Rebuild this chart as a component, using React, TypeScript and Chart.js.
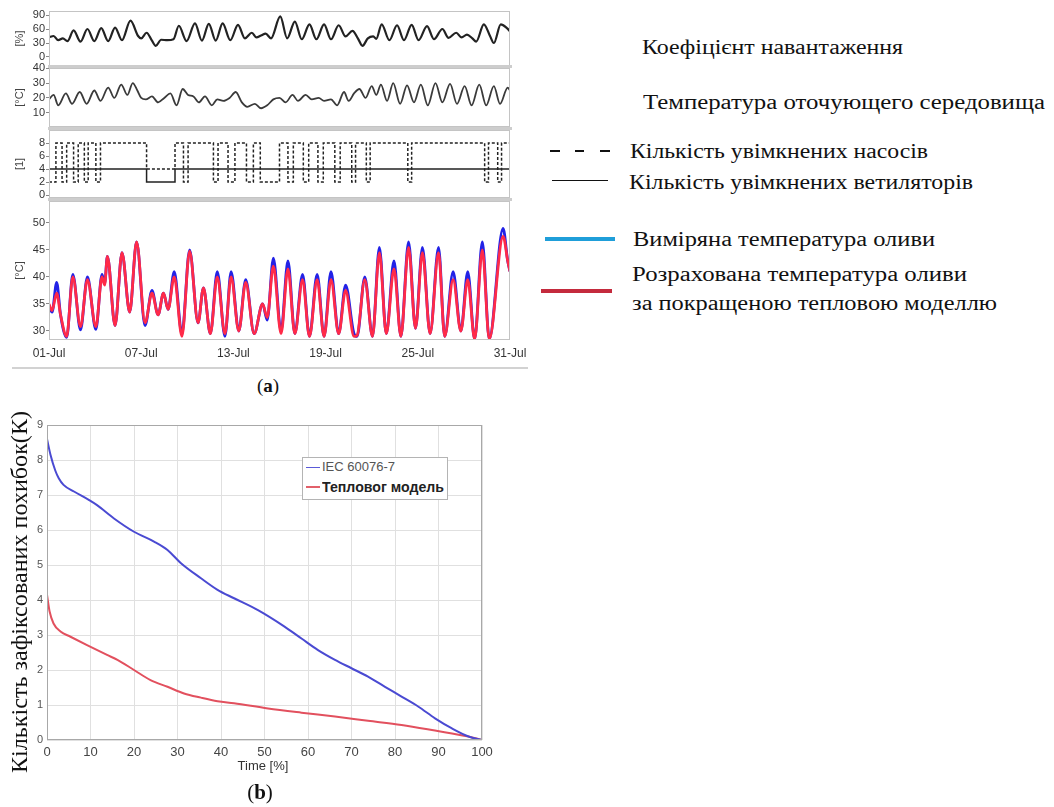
import React, { useEffect, useRef } from 'react';
import { Chart, registerables } from 'chart.js';

Chart.register(...registerables);

const SANS = "'Liberation Sans', Arial, sans-serif";
const SERIF = "'Liberation Serif', 'Times New Roman', serif";

// ---------- (a) panel 1: load factor [%]
const loadDays = [0, 0.3, 0.6, 0.9, 1.2, 1.6, 2.05, 2.5, 2.95, 3.4, 3.85, 4.3, 4.75, 5.3, 5.8, 6.0, 6.35, 6.7, 6.95, 7.3, 7.7, 8.1, 8.45, 8.95, 9.5, 9.95, 10.4, 10.85, 11.3, 11.8, 12.3, 12.75, 13.2, 13.5, 13.8, 14.1, 14.45, 15.05, 15.5, 16.0, 16.45, 16.95, 17.4, 17.9, 18.35, 18.85, 19.3, 19.75, 20.1, 20.4, 20.75, 21.1, 21.3, 21.65, 22.15, 22.65, 23.1, 23.6, 24.05, 24.6, 25.05, 25.6, 26.0, 26.5, 26.85, 27.2, 27.55, 27.8, 28.3, 28.7, 28.95, 29.4, 29.8, 30];
const loadValues = [42, 45, 36, 40, 34, 57, 33, 60, 34, 62, 34, 63, 36, 78, 45, 40, 52, 35, 24, 37, 36, 38, 67, 34, 72, 35, 71, 35, 72, 36, 69, 40, 52, 42, 46, 50, 40, 87, 40, 76, 38, 70, 38, 70, 38, 68, 44, 56, 40, 24, 40, 44, 39, 70, 36, 68, 36, 69, 36, 66, 38, 60, 41, 52, 42, 48, 40, 33, 70, 45, 30, 70, 62, 55];

// ---------- (a) panel 2: ambient temperature [°C]
const ambientDays = [0, 0.3, 0.6, 1.1, 1.5, 2.0, 2.45, 2.95, 3.35, 3.85, 4.25, 4.7, 5.1, 5.45, 5.75, 6.0, 6.3, 6.7, 7.1, 7.5, 7.9, 8.3, 8.7, 9.05, 9.4, 9.75, 10.15, 10.6, 10.95, 11.35, 11.75, 12.15, 12.55, 12.9, 13.4, 13.8, 14.2, 14.6, 15.0, 15.4, 15.85, 16.2, 16.7, 17.1, 17.55, 17.9, 18.35, 18.75, 19.2, 19.5, 19.85, 20.2, 20.6, 21.0, 21.3, 21.6, 22.0, 22.4, 22.85, 23.3, 23.75, 24.2, 24.65, 25.15, 25.6, 26.1, 26.55, 27.05, 27.5, 28.0, 28.45, 28.95, 29.35, 29.85, 30];
const ambientValues = [19, 22, 15, 23, 16, 24, 16, 25, 18, 27, 20, 29, 22, 30, 25, 20, 19, 21, 17, 20, 23, 15, 26, 22, 21, 17, 21, 15, 19, 18, 20, 24, 17, 14, 16, 13, 15, 19, 20, 17, 22, 18, 22, 19, 20, 18, 19, 15, 24, 18, 23, 26, 20, 28, 22, 29, 18, 30, 16, 28.5, 17, 29, 15, 30, 17, 29.5, 16, 28, 15, 29, 15, 28, 16, 27, 25];

// ---------- (a) panel 3: number of pumps / fans switched on
const pumpDays = [0, 0.45, 0.85, 1.15, 1.6, 1.9, 2.3, 2.55, 3.05, 3.35, 6.35, 8.2, 8.75, 9.05, 10.7, 11.0, 11.65, 12.1, 12.85, 13.3, 13.75, 15.0, 15.55, 15.9, 16.55, 16.9, 17.5, 17.85, 18.6, 18.95, 19.7, 19.95, 20.65, 20.9, 23.35, 23.6, 28.35, 28.6, 29.2, 29.45, 30];
const pumpCounts = [2, 8, 2, 8, 2, 8, 2, 8, 2, 8, 4, 8, 2, 8, 2, 8, 2, 8, 2, 8, 2, 8, 2, 8, 2, 8, 2, 8, 2, 8, 2, 8, 2, 8, 2, 8, 2, 8, 2, 8, 8];
const fanDays = [0, 6.35, 8.2, 30];
const fanCounts = [4, 2, 4, 4];

// ---------- (a) panel 4: oil temperature [°C]
const oilDays = [0, 0.2, 0.5, 0.75, 1.15, 1.55, 2.05, 2.5, 3.05, 3.45, 3.62, 3.8, 4.3, 4.75, 5.25, 5.7, 6.25, 6.7, 7.1, 7.45, 7.75, 8.15, 8.65, 9.15, 9.7, 10.05, 10.5, 10.95, 11.45, 11.85, 12.35, 12.8, 13.35, 13.9, 14.2, 14.6, 15.1, 15.55, 16.0, 16.5, 16.95, 17.45, 17.9, 18.35, 18.85, 19.3, 19.85, 20.05, 20.55, 21.05, 21.5, 21.95, 22.45, 22.9, 23.4, 23.85, 24.3, 24.8, 25.35, 25.75, 26.3, 26.8, 27.25, 27.7, 28.2, 28.65, 29.55, 29.85, 30];
const oilCalculated = [35, 33.8, 37, 33, 29, 40, 30.8, 39.5, 30.8, 40, 38.5, 43.8, 31, 44.5, 33.5, 46.5, 31.5, 37, 33, 37, 34, 40, 29, 44.8, 31.5, 38, 29.5, 40, 29.5, 40, 30, 39, 29.5, 35, 32.5, 42, 29.5, 41.5, 29.5, 39.5, 29, 39.5, 29, 39.5, 29.5, 37.5, 29, 29.2, 39.5, 29, 44.5, 29.5, 41.5, 29, 45.5, 30.5, 44.5, 29.5, 44.5, 29, 39.5, 30, 39.5, 28.5, 45, 28.5, 47.5, 43, 41];
const oilMeasured = [34.5, 33.5, 39, 33, 28.8, 40.5, 30.2, 40, 30.3, 40.5, 38.8, 43.8, 31, 44.5, 33.5, 46.5, 31, 37.5, 33, 37, 34, 41, 29.5, 45, 31.5, 38, 29.5, 41, 29, 41, 30, 39.5, 29.5, 35, 32, 43.5, 30, 43, 29.5, 40.5, 29, 40.5, 29, 41, 29.5, 38.5, 29.5, 29, 40, 29, 45.5, 29.5, 43, 29, 46.5, 30.5, 45.5, 29.5, 45.5, 29, 41, 30, 41, 28.5, 46.5, 28.5, 49, 43, 41];

const dateTickDays = [0, 6, 12, 18, 24, 30];
const dateTickLabels = ['01-Jul', '07-Jul', '13-Jul', '19-Jul', '25-Jul', '31-Jul'];
const loadTicks = [0, 30, 60, 90];
const ambientTicks = [10, 20, 30, 40];
const countTicks = [0, 2, 4, 6, 8];
const oilTicks = [30, 35, 40, 45, 50];

// ---------- (b) error counts vs time [%]
const iecPercent = [0, 0.8, 1.9, 2.7, 3.8, 6.2, 9.6, 11.5, 15.4, 20, 24.6, 27.7, 30.8, 35.4, 39.2, 43, 48.5, 54.6, 58.5, 62.3, 66.2, 70, 73.8, 77.7, 81.5, 85.4, 89.2, 93.1, 96.9, 100];
const iecErrors = [8.6, 8.15, 7.7, 7.48, 7.29, 7.1, 6.86, 6.71, 6.33, 5.95, 5.67, 5.43, 5.05, 4.62, 4.29, 4.05, 3.71, 3.24, 2.9, 2.57, 2.29, 2.05, 1.81, 1.52, 1.24, 0.95, 0.62, 0.33, 0.1, 0];
const thermalPercent = [0, 0.6, 1.5, 3.1, 5.4, 9.2, 13.8, 16.2, 20, 23.8, 27.7, 31.5, 35.4, 39.2, 43, 50.8, 58.5, 66.2, 73.8, 81.5, 89.2, 96.9, 100];
const thermalErrors = [4.15, 3.67, 3.33, 3.1, 2.95, 2.71, 2.43, 2.29, 2.0, 1.71, 1.52, 1.33, 1.21, 1.11, 1.05, 0.9, 0.78, 0.67, 0.55, 0.43, 0.27, 0.1, 0];

// ---------- texts
const TXT_LOAD = 'Коефіцієнт навантаження';
const TXT_AMBIENT = 'Температура оточующего середовища';
const TXT_PUMPS = 'Кількість увімкнених насосів';
const TXT_FANS = 'Кількість увімкнених ветиляторів';
const TXT_MEASURED = 'Виміряна температура оливи';
const TXT_CALC1 = 'Розрахована температура оливи';
const TXT_CALC2 = 'за покращеною тепловою моделлю';
const TXT_YB = 'Кількість зафіксованих похибок(К)';
const TXT_IEC = 'IEC 60076-7';
const TXT_THERMAL = 'Тепловог модель';
const TXT_TIME = 'Time [%]';

const zip = (xs: number[], ys: number[]) => xs.map((x, i) => ({ x, y: ys[i] }));

const framePlugin = {
  id: 'frame',
  afterDraw(chart: any, _args: any, opts: any) {
    const { ctx, chartArea: a } = chart;
    ctx.save();
    ctx.strokeStyle = (opts && opts.color) || '#c8c8c8';
    ctx.lineWidth = 1;
    ctx.strokeRect(Math.round(a.left) + 0.5, Math.round(a.top) + 0.5, Math.round(a.width) - 1, Math.round(a.height) - 1);
    ctx.restore();
  },
};

function stripConfig(p: { datasets: any[]; yMin: number; yMax: number; yTicks: number[]; yTitle: string; showX: boolean }): any {
  return {
    type: 'line',
    data: { datasets: p.datasets },
    plugins: [framePlugin],
    options: {
      animation: false,
      responsive: false,
      maintainAspectRatio: false,
      devicePixelRatio: 1,
      layout: { padding: { left: 0, right: 30, top: 6, bottom: p.showX ? 0 : 6 } },
      plugins: { legend: { display: false }, tooltip: { enabled: false }, frame: { color: '#c4c4c4' } },
      elements: { point: { radius: 0 } },
      scales: {
        x: {
          type: 'linear',
          min: 0,
          max: 30,
          display: p.showX,
          afterBuildTicks: (s: any) => { s.ticks = dateTickDays.map((v) => ({ value: v })); },
          afterFit: (s: any) => { s.height = p.showX ? 24 : 0; },
          ticks: {
            callback: (_v: any, i: number) => dateTickLabels[i],
            font: { family: SANS, size: 12 },
            color: '#333',
            padding: 6,
            maxRotation: 0,
            autoSkip: false,
          },
          grid: { display: false, drawTicks: false },
          border: { display: false },
        },
        y: {
          type: 'linear',
          min: p.yMin,
          max: p.yMax,
          afterBuildTicks: (s: any) => { s.ticks = p.yTicks.map((v) => ({ value: v })); },
          afterFit: (s: any) => { s.width = 49; s.paddingTop = 0; s.paddingBottom = 0; },
          ticks: { font: { family: SANS, size: 11 }, color: '#333', padding: 1, autoSkip: false },
          grid: { display: true, drawOnChartArea: false, drawTicks: true, tickLength: 3, color: '#888' },
          border: { display: false },
          title: { display: true, text: p.yTitle, font: { family: SANS, size: 11 }, color: '#444', padding: { top: 13, bottom: 0 } },
        },
      },
    },
  };
}

const smooth = { pointRadius: 0, cubicInterpolationMode: 'monotone', fill: false };

function buildLoad() {
  return stripConfig({
    datasets: [{ data: zip(loadDays, loadValues), borderColor: '#222', borderWidth: 2.2, ...smooth }],
    yMin: -19.3, yMax: 98.6, yTicks: loadTicks, yTitle: '[%]', showX: false,
  });
}
function buildAmbient() {
  return stripConfig({
    datasets: [{ data: zip(ambientDays, ambientValues), borderColor: '#3a3a3a', borderWidth: 1.8, ...smooth }],
    yMin: 0.34, yMax: 40.2, yTicks: ambientTicks, yTitle: '[°C]', showX: false,
  });
}
function buildCounts() {
  return stripConfig({
    datasets: [
      { data: zip(pumpDays, pumpCounts), borderColor: '#222', borderWidth: 1.5, borderDash: [3, 2], stepped: true, pointRadius: 0, fill: false },
      { data: zip(fanDays, fanCounts), borderColor: '#222', borderWidth: 1.5, stepped: true, pointRadius: 0, fill: false },
    ],
    yMin: -0.46, yMax: 10, yTicks: countTicks, yTitle: '[1]', showX: false,
  });
}
function buildOil() {
  return stripConfig({
    datasets: [
      { data: zip(oilDays, oilCalculated), borderColor: '#ff2a48', borderWidth: 2.8, ...smooth },
      { data: zip(oilDays, oilMeasured), borderColor: '#2222e6', borderWidth: 2.8, ...smooth },
    ],
    yMin: 28.33, yMax: 54.07, yTicks: oilTicks, yTitle: '[°C]', showX: true,
  });
}

function buildErrors(): any {
  return {
    type: 'line',
    data: {
      datasets: [
        { data: zip(iecPercent, iecErrors), borderColor: '#4a4ad2', borderWidth: 2, ...smooth },
        { data: zip(thermalPercent, thermalErrors), borderColor: '#e2505e', borderWidth: 2, ...smooth },
      ],
    },
    plugins: [framePlugin],
    options: {
      animation: false,
      responsive: false,
      maintainAspectRatio: false,
      devicePixelRatio: 1,
      layout: { padding: { left: 0, right: 30, top: 8, bottom: 0 } },
      plugins: { legend: { display: false }, tooltip: { enabled: false }, frame: { color: '#a8a8a8' } },
      scales: {
        x: {
          type: 'linear', min: 0, max: 100,
          ticks: { stepSize: 10, font: { family: SANS, size: 13 }, color: '#444', padding: 5, maxRotation: 0, autoSkip: false },
          grid: { color: '#e0e0e0', drawTicks: false },
          border: { display: false },
          afterFit: (s: any) => { s.height = 22; },
        },
        y: {
          type: 'linear', min: 0, max: 9,
          ticks: { stepSize: 1, font: { family: SANS, size: 11 }, color: '#555', padding: 4, autoSkip: false },
          grid: { color: '#e0e0e0', drawTicks: false },
          border: { display: false },
          afterFit: (s: any) => { s.width = 47; s.paddingTop = 0; s.paddingBottom = 0; },
        },
      },
    },
  };
}

function ChartBox({ left, top, width, height, build }: { left: number; top: number; width: number; height: number; build: () => any }) {
  const ref = useRef<HTMLCanvasElement>(null);
  useEffect(() => {
    const chart = new Chart(ref.current as HTMLCanvasElement, build());
    return () => chart.destroy();
  }, []);
  return <canvas ref={ref} width={width} height={height} style={{ position: 'absolute', left, top, width, height }} />;
}

let measureCtx: CanvasRenderingContext2D | null = null;
function textWidth(text: string, font: string) {
  if (!measureCtx) measureCtx = document.createElement('canvas').getContext('2d');
  measureCtx!.font = font;
  return measureCtx!.measureText(text).width;
}

function FitText({ text, left, cy, width, size, family = SERIF, weight = 'normal', color = '#111' }: any) {
  const natural = textWidth(text, `${weight} ${size}px ${family}`) || width;
  const sx = width / natural;
  return (
    <div style={{ position: 'absolute', left, top: cy - size * 0.66, fontFamily: family, fontSize: size, fontWeight: weight, lineHeight: 1.2, whiteSpace: 'nowrap', color, transform: `scaleX(${sx})`, transformOrigin: '0 0' }}>
      {text}
    </div>
  );
}

function RotText({ text, cx, cy, length, size, family = SERIF, color = '#111' }: any) {
  const natural = textWidth(text, `normal ${size}px ${family}`) || length;
  const sx = length / natural;
  return (
    <div style={{ position: 'absolute', left: cx, top: cy, fontFamily: family, fontSize: size, lineHeight: 1, whiteSpace: 'nowrap', color, transform: `translate(-50%, -50%) rotate(-90deg) scaleX(${sx})`, transformOrigin: '50% 50%' }}>
      {text}
    </div>
  );
}

function Bar({ left, top, width, height, color }: any) {
  return <div style={{ position: 'absolute', left, top, width, height, background: color }} />;
}

export default function App() {
  return (
    <div style={{ position: 'absolute', left: 0, top: 0, width: 1054, height: 807, background: '#fff', overflow: 'hidden' }}>
      <ChartBox left={0} top={5} width={540} height={67} build={buildLoad} />
      <ChartBox left={0} top={62} width={540} height={71} build={buildAmbient} />
      <ChartBox left={0} top={124} width={540} height={80} build={buildCounts} />
      <ChartBox left={0} top={195} width={540} height={169} build={buildOil} />

      <Bar left={48} top={65} width={464} height={3} color="#cdcdcd" />
      <Bar left={48} top={127} width={464} height={3} color="#cdcdcd" />
      <Bar left={48} top={198} width={464} height={3} color="#cdcdcd" />
      <Bar left={12} top={367} width={516} height={2} color="#d2d2d2" />

      <div style={{ position: 'absolute', left: 268, top: 385, transform: 'translate(-50%, -50%)', fontFamily: SERIF, fontSize: 19, lineHeight: 1, color: '#111', whiteSpace: 'nowrap' }}>
        (<b>a</b>)
      </div>

      <ChartBox left={0} top={417} width={512} height={345} build={buildErrors} />
      <div style={{ position: 'absolute', left: 302, top: 457, width: 146, height: 43, border: '1px solid #b4b4b4', background: '#fff', boxSizing: 'border-box' }} />
      <Bar left={306} top={466.5} width={14} height={1.5} color="#5a5ad8" />
      <Bar left={306} top={486} width={14} height={1.5} color="#e2606a" />
      <FitText text={TXT_IEC} left={322} cy={468} width={73} size={13} family={SANS} color="#555" />
      <FitText text={TXT_THERMAL} left={322} cy={488} width={122} size={14} family={SANS} weight="bold" color="#222" />
      <div style={{ position: 'absolute', left: 263, top: 765, transform: 'translate(-50%, -50%)', fontFamily: SANS, fontSize: 13, lineHeight: 1, color: '#333', whiteSpace: 'nowrap' }}>
        {TXT_TIME}
      </div>
      <div style={{ position: 'absolute', left: 260, top: 792, transform: 'translate(-50%, -50%)', fontFamily: SERIF, fontSize: 21, lineHeight: 1, color: '#111', whiteSpace: 'nowrap' }}>
        (<b>b</b>)
      </div>
      <RotText text={TXT_YB} cx={19} cy={592} length={362} size={24} />

      <Bar left={550} top={150} width={10} height={1.5} color="#111" />
      <Bar left={575} top={150} width={9} height={1.5} color="#111" />
      <Bar left={600} top={150} width={10} height={1.5} color="#111" />
      <Bar left={552} top={179.5} width={56} height={1.5} color="#111" />
      <Bar left={545} top={237} width={70} height={4} color="#1f9ed9" />
      <Bar left={541} top={289} width={71} height={4} color="#c42a3d" />

      <FitText text={TXT_LOAD} left={642} cy={48} width={261} size={20} />
      <FitText text={TXT_AMBIENT} left={643} cy={103} width={402} size={20} />
      <FitText text={TXT_PUMPS} left={630} cy={152} width={298} size={20} />
      <FitText text={TXT_FANS} left={629} cy={183} width={344} size={20} />
      <FitText text={TXT_MEASURED} left={633} cy={240} width={302} size={20} />
      <FitText text={TXT_CALC1} left={632} cy={275} width={335} size={20} />
      <FitText text={TXT_CALC2} left={632} cy={304} width={365} size={20} />
    </div>
  );
}
